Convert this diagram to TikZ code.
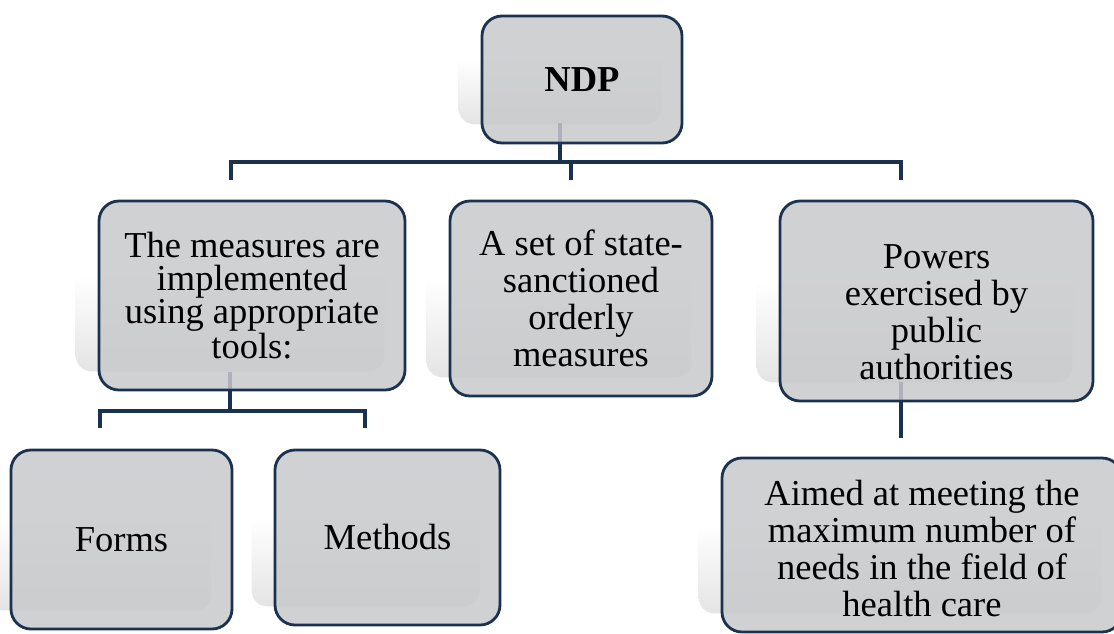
\documentclass[tikz,border=0pt]{standalone}
\usepackage{fontspec}
\setmainfont{Liberation Serif}
\pgfdeclarelayer{shadowlayer}
\pgfdeclarelayer{linelayer}
\pgfsetlayers{shadowlayer,linelayer,main}
\definecolor{navy}{HTML}{1B3150}
\definecolor{boxfill}{HTML}{C8C9CB}
\definecolor{shadegray}{HTML}{E4E4E4}
\tikzset{
  box/.style={draw=navy, line width=2.8pt, fill=boxfill, fill opacity=0.85, text opacity=1, draw opacity=1,
    rounded corners=20pt, align=center, inner sep=0pt,
    font=\fontsize{36.5}{37}\selectfont},
  conn/.style={draw=navy, line width=3.2pt},
  shadowbox/.style={rounded corners=16pt, top color=white, bottom color=shadegray, middle color=white}
}
\newcommand\boxshadow[1]{%
  \begin{pgfonlayer}{shadowlayer}
    \path[shadowbox] ([xshift=-22pt,yshift=20pt]#1.south west) rectangle ([xshift=-22pt,yshift=20pt]#1.north east);
  \end{pgfonlayer}}
\begin{document}
\begin{tikzpicture}[x=1pt,y=-1pt]
\useasboundingbox (0,0) rectangle (1114,633);
% boxes
\node[box, minimum width=200pt, minimum height=127pt] (ndp) at (582,79.5) {\bfseries NDP};
\node[box, minimum width=306pt, minimum height=189pt, font=\fontsize{36.5}{33}\selectfont] (b1) at (252,295.5) {The measures are\\implemented\\using appropriate\\tools:};
\node[box, minimum width=262pt, minimum height=195pt] (b2) at (581,298.5) {A set of state-\\sanctioned\\orderly\\measures};
\node[box, minimum width=313pt, minimum height=200pt] (b3) at (936.5,301) {\rule{0pt}{46pt}Powers\\exercised by\\public\\authorities};
\node[box, minimum width=221pt, minimum height=179pt] (forms) at (121.5,539.5) {Forms};
\node[box, minimum width=225pt, minimum height=175pt] (methods) at (387.5,537.5) {Methods};
\node[box, minimum width=400pt, minimum height=174pt] (aimed) at (922,545) {\rule{0pt}{33pt}Aimed at meeting the\\maximum number of\\needs in the field of\\health care};
% shadows
\boxshadow{ndp}
\boxshadow{b1}
\boxshadow{b2}
\boxshadow{b3}
\boxshadow{forms}
\boxshadow{methods}
\boxshadow{aimed}
% connector points
\coordinate (ndpdrop) at (560,123);
\coordinate (busL) at (231,162);
\coordinate (busR) at (901,162);
\coordinate (busM) at (571,162);
\coordinate (tL) at (231,180);
\coordinate (tM) at (571,180);
\coordinate (tR) at (901,180);
\coordinate (b1drop) at (230,372);
\coordinate (subL) at (100,411);
\coordinate (subR) at (365,411);
\coordinate (sL) at (100,428);
\coordinate (sR) at (365,428);
\coordinate (b3drop) at (901,382);
\coordinate (b3end) at (901,438);
\begin{pgfonlayer}{linelayer}
  \draw[conn] (ndpdrop) -- (ndpdrop |- busL);
  \draw[conn] (tL) -- (busL) -- (busR) -- (tR);
  \draw[conn] (busM) -- (tM);
  \draw[conn] (b1drop) -- (b1drop |- subL);
  \draw[conn] (sL) -- (subL) -- (subR) -- (sR);
  \draw[conn] (b3drop) -- (b3end);
\end{pgfonlayer}
\end{tikzpicture}
\end{document}
